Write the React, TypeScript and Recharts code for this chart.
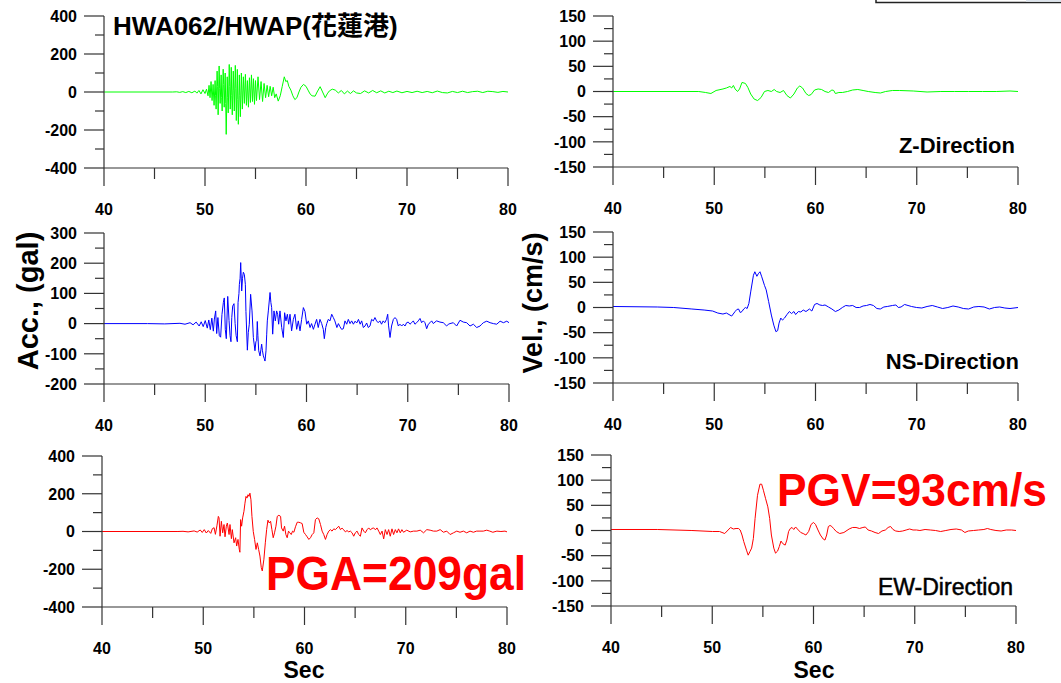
import React from "react";
import { Line, LineChart, XAxis, YAxis } from "recharts";

// time axis (s)
const timeTicks = [40, 45, 50, 55, 60, 65, 70, 75, 80];
// acceleration ticks (gal)
const acc400Ticks = [400, 300, 200, 100, 0, -100, -200, -300, -400];
const acc300Ticks = [300, 250, 200, 150, 100, 50, 0, -50, -100, -150, -200];
// velocity ticks (cm/s)
const velTicks = [150, 125, 100, 75, 50, 25, 0, -25, -50, -75, -100, -125, -150];

// [time, value]
const zAcc: [number, number][] = [
  [40, 0], [46.8, 0], [47.2, 1], [47.5, -2], [47.8, 2], [48.1, -3], [48.4, 3], [48.7, -4], [49.0, 5], [49.2, -6],
  [49.4, 8], [49.6, -10], [49.8, 12], [50.0, -8], [50.15, 15], [50.3, -20], [50.4, 35], [50.5, -30], [50.6, 55], [50.7, -45],
  [50.8, 40], [50.9, -70], [51.0, 60], [51.05, -20], [51.1, -90], [51.2, 110], [51.25, 30], [51.3, -120], [51.4, 137], [51.45, 20],
  [51.5, -60], [51.6, 90], [51.65, -30], [51.7, -100], [51.8, 120], [51.85, 40], [51.9, -80], [52.0, 100], [52.05, -60], [52.1, -223],
  [52.2, 80], [52.25, -30], [52.3, -110], [52.4, 145], [52.45, 30], [52.5, -90], [52.6, 130], [52.65, -20], [52.7, -120], [52.8, 110],
  [52.85, 10], [52.9, -100], [53.0, 140], [53.05, 20], [53.1, -150], [53.2, 119], [53.25, -40], [53.3, -170], [53.4, 90], [53.45, -20],
  [53.5, -130], [53.6, 100], [53.65, 10], [53.7, -90], [53.8, 80], [53.9, -60], [54.0, 93], [54.1, -70], [54.2, 60], [54.3, -80],
  [54.4, 75], [54.5, -55], [54.6, 90], [54.7, -50], [54.8, 70], [54.9, -65], [55.0, 60], [55.1, -45], [55.25, 80], [55.4, -40],
  [55.55, 55], [55.7, -50], [55.85, 45], [56.0, -30], [56.15, 35], [56.3, -25], [56.45, 30], [56.6, -20], [56.75, 25], [56.9, -30],
  [57.05, -10], [57.25, -48], [57.45, -20], [57.65, 30], [57.85, 80], [58.0, 55], [58.15, 60], [58.3, 30], [58.5, 10], [58.7, -20],
  [58.9, -40], [59.1, -30], [59.3, 0], [59.5, 25], [59.75, 40], [60.0, 30], [60.2, 10], [60.4, -10], [60.6, -20], [60.9, -22],
  [61.1, 0], [61.4, 28], [61.6, 5], [61.9, -30], [62.1, -10], [62.3, 5], [62.6, 15], [62.9, 10], [63.2, -5], [63.5, 8],
  [63.8, -10], [64.1, 5], [64.4, -8], [64.7, 6], [65.0, -5], [65.4, -8], [65.8, 6], [66.2, -5], [66.6, 8], [67.0, -4],
  [67.4, 6], [67.8, -5], [68.2, 4], [68.6, -3], [69.0, 5], [69.5, -4], [70.0, 3], [70.5, -3], [71.0, 4], [71.5, -3],
  [72.0, 3], [72.5, -4], [73.0, 5], [73.5, -3], [74.0, -5], [74.5, 3], [75.0, -3], [75.5, 4], [76.0, -3], [76.5, 2],
  [77.0, 4], [77.5, -3], [78.0, 4], [78.5, 2], [79.0, -2], [79.5, 3], [80, 0],
];

const nsAcc: [number, number][] = [
  [40, 0], [44.3, 0], [46, -1], [47.5, 1], [48.0, -2], [48.5, 3], [48.8, -4], [49.1, 5], [49.4, -8], [49.6, 6],
  [49.8, -10], [50.0, 10], [50.2, -15], [50.35, 12], [50.5, -20], [50.65, 18], [50.8, -25], [50.9, 15], [51.03, 42], [51.13, -33],
  [51.25, 20], [51.39, -40], [51.52, -45], [51.65, 30], [51.79, 70], [51.88, 85], [51.98, -20], [52.08, -50], [52.22, 90], [52.35, 10],
  [52.45, -40], [52.54, -60], [52.62, 20], [52.71, 58], [52.84, 66], [52.95, 0], [53.05, -40], [53.17, -60], [53.24, 70], [53.33, 100],
  [53.37, 130], [53.44, 150], [53.5, 202], [53.6, 108], [53.68, 150], [53.76, 170], [53.86, 163], [53.96, 130], [54.02, 40], [54.16, -88],
  [54.25, -30], [54.35, -2], [54.48, 97], [54.62, 42], [54.75, -46], [54.91, -90], [55.0, -60], [55.08, -57], [55.14, 7], [55.2, -40],
  [55.28, -90], [55.41, -107], [55.5, -85], [55.57, -68], [55.65, -90], [55.74, -107], [55.82, -115], [55.9, -124], [56.0, -90], [56.07, -35],
  [56.13, 9], [56.23, 42], [56.4, 103], [56.48, 70], [56.56, 53], [56.66, -35], [56.79, 42], [56.92, 9], [57.05, 42], [57.15, 31],
  [57.25, -2], [57.38, 42], [57.55, -13], [57.71, -46], [57.84, 36], [57.97, 9], [58.11, 31], [58.24, -2], [58.37, 31], [58.53, -24],
  [58.7, 14], [58.86, 31], [59.03, -19], [59.19, 9], [59.36, -24], [59.52, 14], [59.69, 53], [59.85, 40], [60.02, -2], [60.18, 9],
  [60.35, -13], [60.5, 0], [60.68, -19], [60.84, -2], [61.0, 14], [61.16, -13], [61.33, 14], [61.5, 0], [61.66, -19], [61.76, -50],
  [61.9, -13], [62.0, 0], [62.15, 14], [62.32, 9], [62.49, 31], [62.65, 20], [62.8, 9], [63.0, -13], [63.15, 0], [63.3, -10],
  [63.47, -19], [63.64, -17], [63.8, 9], [63.97, -2], [64.13, 14], [64.3, 0], [64.46, 9], [64.63, -2], [64.8, 8], [64.96, 2],
  [65.13, 14], [65.3, -2], [65.45, 9], [65.61, -13], [65.78, -8], [65.94, 2], [66.1, -13], [66.27, -8], [66.43, 14], [66.6, 9],
  [66.76, 20], [66.92, 9], [67.08, 3], [67.25, 9], [67.41, -2], [67.57, 9], [67.73, 3], [67.9, 14], [68.02, 31], [68.1, -5],
  [68.25, -46], [68.4, -8], [68.58, 14], [68.74, 20], [68.9, 14], [69.07, -8], [69.23, -2], [69.4, -8], [69.56, -2], [69.73, -8],
  [69.89, 3], [70.05, 5], [70.22, -2], [70.38, 3], [70.55, 9], [70.71, -2], [70.88, 3], [71.04, 9], [71.21, 17], [71.37, 3],
  [71.54, 9], [71.7, 3], [71.87, -17], [72.03, -2], [72.2, 3], [72.36, 9], [72.53, 0], [72.69, 5], [72.85, 9], [73.18, 5],
  [73.51, 3], [73.84, -8], [74.01, -2], [74.17, 0], [74.5, 3], [74.83, -8], [75.16, 11], [75.49, 5], [75.82, 3], [76.15, -8],
  [76.48, -2], [76.81, -13], [77.14, -8], [77.31, -2], [77.47, 3], [77.8, 8], [78.13, 3], [78.46, 0], [78.79, -2], [79.12, 8],
  [79.45, 3], [79.78, 8], [80, 3],
];

const ewAcc: [number, number][] = [
  [40, 0], [47.5, 0], [48, 1], [48.5, -2], [49.1, 3], [49.4, -3], [49.7, 8], [49.9, -5], [50.1, 10], [50.3, -8],
  [50.5, 5], [50.74, -10], [50.9, 15], [51.07, 20], [51.2, -15], [51.35, 30], [51.49, 80], [51.56, 72], [51.66, -25], [51.79, 54],
  [51.92, -7], [52.05, 37], [52.15, -28], [52.28, 28], [52.38, 45], [52.55, -16], [52.64, 37], [52.78, -38], [52.87, 10], [53.04, -60],
  [53.2, -33], [53.3, -77], [53.43, -42], [53.56, -95], [53.62, -110], [53.69, 63], [53.79, 28], [53.89, 72], [54.02, 107], [54.12, 150],
  [54.22, 186], [54.32, 177], [54.42, 195], [54.52, 186], [54.61, 203], [54.71, 168], [54.81, 80], [54.94, 0], [55.07, -42], [55.21, -95],
  [55.34, -60], [55.47, -95], [55.6, -130], [55.73, -191], [55.83, -209], [55.99, -147], [56.13, -60], [56.26, 10], [56.39, 60], [56.52, 45],
  [56.65, 54], [56.78, 10], [56.91, -33], [57.04, -7], [57.18, 28], [57.31, 80], [57.47, 86], [57.64, 80], [57.73, 19], [57.9, 2],
  [58.03, 28], [58.16, -16], [58.29, -33], [58.42, 2], [58.55, -7], [58.69, -16], [58.82, 2], [58.95, -4], [59.11, 25], [59.28, 49],
  [59.44, 49], [59.61, 46], [59.77, 42], [59.93, -4], [60.1, -16], [60.26, -28], [60.43, -42], [60.59, -33], [60.76, -16], [60.92, -7],
  [61.08, 63], [61.25, 72], [61.41, 67], [61.58, 37], [61.74, 2], [61.9, -16], [62.07, -42], [62.23, -16], [62.4, 2], [62.56, 10],
  [62.72, 2], [62.89, 14], [63.05, 10], [63.22, 19], [63.38, 28], [63.55, 10], [63.71, 18], [63.87, 9], [64.04, -2], [64.2, 5],
  [64.37, -2], [64.53, 2], [64.7, -7], [64.86, -25], [65.02, -7], [65.19, 2], [65.35, -16], [65.52, -25], [65.68, 19], [65.85, 2],
  [66.01, -7], [66.17, 9], [66.34, 19], [66.5, 9], [66.67, 16], [66.83, 19], [67.0, 9], [67.16, 19], [67.33, 2], [67.49, -16],
  [67.66, 2], [67.82, -39], [67.98, 10], [68.15, -16], [68.31, 10], [68.47, -25], [68.64, 14], [68.8, -16], [68.97, 10], [69.13, -7],
  [69.29, 14], [69.46, -7], [69.62, 10], [69.78, -4], [70.1, 7], [70.44, -2], [70.77, 2], [71.1, 2], [71.43, 7], [71.76, -7],
  [72.08, 10], [72.41, 7], [72.74, 2], [73.07, 2], [73.4, 10], [73.72, -4], [74.05, 2], [74.38, -16], [74.71, -7], [75.04, 2],
  [75.36, -4], [75.69, 2], [76.02, -7], [76.35, 2], [76.68, -4], [77.0, 2], [77.33, 2], [77.66, 2], [78.0, 7], [78.3, 2],
  [78.6, -4], [79.0, 2], [79.4, 0], [79.8, 2], [80, -2],
];

const zVel: [number, number][] = [
  [40, 0], [48.47, 0], [49.15, -2], [49.67, -4], [50.18, 2], [50.86, 5], [51.2, 7], [51.55, 10], [51.72, 7], [51.89, 12],
  [52.06, 5], [52.3, 0], [52.5, 5], [52.74, 18], [53.08, 16], [53.32, 8], [53.6, -5], [53.94, -15], [54.28, -18], [54.62, -12],
  [54.96, 0], [55.3, 2], [55.64, 0], [55.92, 4], [56.16, 0], [56.5, -2], [56.84, 2], [57.18, -8], [57.52, -13], [57.87, -5],
  [58.21, 7], [58.45, 11], [58.72, 7], [59.06, -4], [59.33, -8], [59.57, -6], [59.91, 3], [60.26, 5], [60.6, 4], [60.94, 0],
  [61.28, -2], [61.62, 3], [61.8, 2], [61.96, -4], [62.31, -2], [62.65, -2], [63.16, 0], [63.67, 3], [64.18, 4], [64.7, 2],
  [65.21, 0], [65.89, -2], [66.41, -3], [66.92, 0], [67.6, 2], [68.28, 2], [69.65, 1], [71.02, -1], [72.38, 0], [73.75, 0],
  [75.12, 0], [76.48, 0], [77.85, 0], [79.21, 1], [80, 0],
];

const nsVel: [number, number][] = [
  [40, 2], [44.37, 1], [46, 0], [47.79, -3], [49.0, -5], [49.84, -7], [50.35, -11], [50.86, -13], [51.2, -11], [51.72, -17],
  [52.06, -8], [52.23, -4], [52.4, -3], [52.57, -10], [52.74, -8], [52.91, -3], [53.08, 0], [53.25, -2], [53.42, 8], [53.6, 31],
  [53.87, 64], [54.01, 71], [54.21, 62], [54.35, 67], [54.52, 71], [54.69, 61], [54.96, 44], [55.13, 35], [55.37, 12], [55.64, -15],
  [55.88, -35], [56.09, -48], [56.26, -46], [56.4, -31], [56.57, -21], [56.74, -25], [56.94, -21], [57.18, -14], [57.42, -8], [57.63, -12],
  [57.87, -8], [58.04, -14], [58.31, -8], [58.55, -9], [58.79, -5], [59.06, -8], [59.4, -3], [59.64, -7], [59.91, 6], [60.15, 8],
  [60.43, 5], [60.7, 4], [60.94, 5], [61.28, 1], [61.62, -3], [61.96, -8], [62.31, -5], [62.65, 0], [62.99, 4], [63.33, 3],
  [63.67, 4], [64.01, 0], [64.36, 0], [64.7, 3], [65.04, 4], [65.38, 6], [65.72, 4], [66.06, -2], [66.4, -3], [66.75, 1],
  [67.09, 2], [67.6, 4], [67.94, 5], [68.18, 0], [68.45, 1], [68.8, 6], [69.14, 4], [69.48, 2], [69.99, 0], [70.5, -1],
  [71.02, 2], [71.53, 4], [72.04, 1], [72.55, -2], [73.07, 0], [73.58, 3], [74.09, 1], [74.6, -2], [75.12, -3], [75.63, 1],
  [76.14, 2], [76.65, 1], [77.17, -3], [77.68, 0], [78.19, 1], [78.7, -1], [79.21, -2], [80, 0],
];

const ewVel: [number, number][] = [
  [40, 2], [44.57, 2], [47.99, 0], [50.03, -2], [50.72, -2], [51.23, -6], [51.57, 1], [51.81, 6], [52.08, 3], [52.35, 4],
  [52.59, 4], [52.76, 1], [52.94, -9], [53.11, -22], [53.38, -39], [53.55, -49], [53.72, -42], [53.89, -35], [54.06, -16], [54.23, 24],
  [54.47, 70], [54.71, 92], [54.88, 92], [55.05, 80], [55.26, 64], [55.49, 47], [55.67, 24], [55.84, -9], [56.08, -35], [56.25, -45],
  [56.45, -41], [56.62, -32], [56.79, -21], [56.96, -26], [57.2, -29], [57.37, -19], [57.54, -2], [57.71, 4], [57.88, 6], [58.05, 2],
  [58.23, 7], [58.5, 1], [58.74, -4], [58.98, -6], [59.25, -9], [59.52, -2], [59.76, 12], [60.0, 16], [60.2, 12], [60.44, 1],
  [60.68, -9], [60.96, -17], [61.13, -19], [61.3, -9], [61.47, 8], [61.64, 10], [61.81, 8], [61.98, 4], [62.25, -2], [62.59, -6],
  [63.0, -4], [63.52, 3], [63.86, 6], [64.2, 6], [64.54, 4], [64.88, 6], [65.12, 7], [65.39, 1], [65.73, -1], [66.08, -4],
  [66.42, -6], [66.76, -1], [67.1, 1], [67.37, 6], [67.61, 8], [67.85, 2], [68.12, -1], [68.46, -2], [68.81, -1], [69.15, 1],
  [69.49, 3], [69.83, 1], [70.17, 1], [70.51, 0], [71.02, 2], [71.54, 1], [72.05, 0], [72.56, -2], [73.07, 0], [73.58, 2],
  [74.1, 3], [74.61, 1], [74.95, -4], [75.29, -1], [75.8, 0], [76.31, 1], [76.83, 2], [77.17, 4], [77.51, 2], [78.02, 0],
  [78.53, -1], [79.04, 1], [79.56, 1], [80, 0],
];

const FONT = "'Liberation Sans', Arial, 'Noto Sans CJK TC', sans-serif";
const AXIS = "#333";
const Y_W = 60;
const X_H = 50;
const PAD_T = 10;
const PAD_R = 20;

function YTick(props: any) {
  const { x, y, payload, major } = props;
  const isMajor = Math.abs(payload.value % major) < 1e-6;
  return (
    <g>
      <line x1={x - (isMajor ? 20 : 9)} x2={x} y1={y} y2={y} stroke={AXIS} strokeWidth={1.2} />
      {isMajor && (
        <text x={x - 27} y={y} dy="0.36em" textAnchor="end" fontSize={16} fontWeight="bold" fontFamily={FONT} fill="#000">
          {payload.value}
        </text>
      )}
    </g>
  );
}

function XTick(props: any) {
  const { x, y, payload } = props;
  const isMajor = payload.value % 10 === 0;
  return (
    <g>
      <line x1={x} x2={x} y1={y} y2={y + (isMajor ? 18 : 11)} stroke={AXIS} strokeWidth={1.2} />
      {isMajor && (
        <text x={x} y={y + 41} dy="0.36em" textAnchor="middle" fontSize={16} fontWeight="bold" fontFamily={FONT} fill="#000">
          {payload.value}
        </text>
      )}
    </g>
  );
}

type PanelProps = {
  pairs: [number, number][];
  color: string;
  axisX: number;
  x80: number;
  yTop: number;
  yBottom: number;
  domain: [number, number];
  ticks: number[];
  major: number;
};

function Panel({ pairs, color, axisX, x80, yTop, yBottom, domain, ticks, major }: PanelProps) {
  const rows = pairs.map(([t, v]) => ({ t, v }));
  const width = x80 - axisX + Y_W + PAD_R;
  const height = yBottom - yTop + PAD_T + X_H;
  return (
    <div style={{ position: "absolute", left: axisX - Y_W, top: yTop - PAD_T }}>
      <LineChart width={width} height={height} data={rows} margin={{ top: PAD_T, right: PAD_R, bottom: 0, left: 0 }}>
        <XAxis
          type="number"
          dataKey="t"
          domain={[40, 80]}
          ticks={timeTicks}
          interval={0}
          allowDataOverflow
          height={X_H}
          tickSize={0}
          tickMargin={0}
          tickLine={false}
          axisLine={{ stroke: AXIS, strokeWidth: 1.2 }}
          tick={(p: any) => <XTick {...p} />}
        />
        <YAxis
          type="number"
          domain={domain}
          ticks={ticks}
          interval={0}
          allowDataOverflow
          width={Y_W}
          tickSize={0}
          tickMargin={0}
          tickLine={false}
          axisLine={{ stroke: AXIS, strokeWidth: 1.2 }}
          tick={(p: any) => <YTick {...p} major={major} />}
        />
        <Line type="linear" dataKey="v" stroke={color} strokeWidth={1} dot={false} isAnimationActive={false} />
      </LineChart>
    </div>
  );
}

export default function App() {
  return (
    <div style={{ position: "absolute", left: 0, top: 0, width: 1061, height: 683, background: "#fff", overflow: "hidden" }}>
      <Panel pairs={zAcc} color="#00ff00" axisX={104} x80={508} yTop={16} yBottom={168} domain={[-400, 400]} ticks={acc400Ticks} major={200} />
      <Panel pairs={zVel} color="#00ff00" axisX={613} x80={1018} yTop={15.5} yBottom={166.5} domain={[-150, 150]} ticks={velTicks} major={50} />
      <Panel pairs={nsAcc} color="#0000ff" axisX={104} x80={509} yTop={233} yBottom={384} domain={[-200, 300]} ticks={acc300Ticks} major={100} />
      <Panel pairs={nsVel} color="#0000ff" axisX={613} x80={1018} yTop={231.5} yBottom={382.5} domain={[-150, 150]} ticks={velTicks} major={50} />
      <Panel pairs={ewAcc} color="#ff0000" axisX={102} x80={507} yTop={456} yBottom={607} domain={[-400, 400]} ticks={acc400Ticks} major={200} />
      <Panel pairs={ewVel} color="#ff0000" axisX={611} x80={1016} yTop={455} yBottom={606} domain={[-150, 150]} ticks={velTicks} major={50} />
      <svg width={1061} height={683} style={{ position: "absolute", left: 0, top: 0, pointerEvents: "none" }} fontFamily={FONT}>
        <rect x={876} y={-4} width={200} height={6.5} fill="#fff" stroke="#222" strokeWidth={1.5} />
        <rect x={1026} y={-2} width={40} height={3.8} fill="#dde4ec" />
        <text x={113} y={35} fontSize={26} fontWeight="bold" fill="#000">HWA062/HWAP(花蓮港)</text>
        <text x={1015} y={153} fontSize={22} fontWeight="bold" textAnchor="end" fill="#000">Z-Direction</text>
        <text x={1019} y={369} fontSize={22} fontWeight="bold" textAnchor="end" fill="#000">NS-Direction</text>
        <text x={1013} y={595} fontSize={23} textAnchor="end" fill="#000" stroke="#000" strokeWidth={0.5}>EW-Direction</text>
        <text transform="translate(38,301) rotate(-90)" fontSize={29} fontWeight="bold" textAnchor="middle" fill="#000">Acc., (gal)</text>
        <text transform="translate(542,303) rotate(-90)" fontSize={27} fontWeight="bold" textAnchor="middle" fill="#000">Vel., (cm/s)</text>
        <text x={304} y={678} fontSize={23} fontWeight="bold" textAnchor="middle" fill="#000">Sec</text>
        <text x={814} y={678} fontSize={23} fontWeight="bold" textAnchor="middle" fill="#000">Sec</text>
        <text x={266} y={590} fontSize={48} fontWeight="bold" fill="#ff0000" textLength={260} lengthAdjust="spacingAndGlyphs">PGA=209gal</text>
        <text x={777} y={506} fontSize={46} fontWeight="bold" fill="#ff0000" textLength={270} lengthAdjust="spacingAndGlyphs">PGV=93cm/s</text>
      </svg>
    </div>
  );
}
